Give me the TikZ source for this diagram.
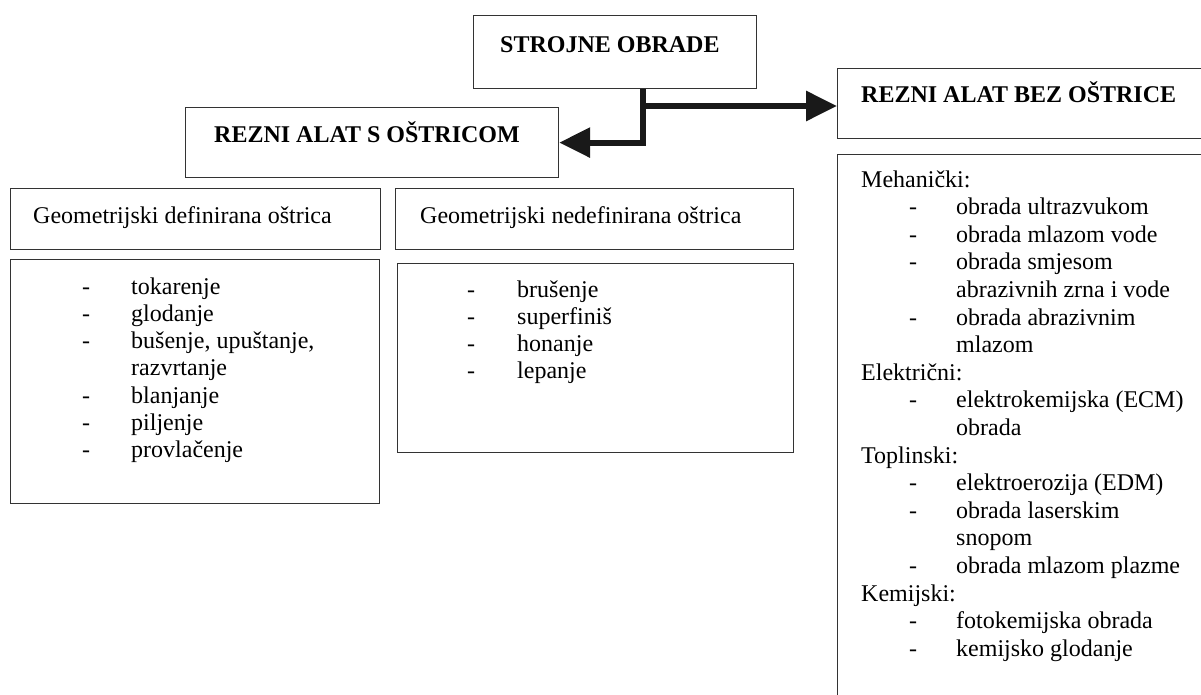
\documentclass[tikz,border=0pt]{standalone}
\usepackage{fontspec}
\setmainfont{Liberation Serif}
\usetikzlibrary{arrows.meta,calc}
\newcommand\li[3]{\hspace*{#1}\makebox[#2][l]{-}#3}
\tikzset{
  box/.style={draw=black!80, line width=1.2pt, rectangle, inner sep=0pt, anchor=north west},
  title/.style={anchor=base west, inner sep=0pt, font=\fontsize{24}{27}\selectfont\bfseries},
  plain/.style={anchor=base west, inner sep=0pt, font=\fontsize{24}{27}\selectfont},
  conn/.style={line width=6pt, draw=black!90, -{Triangle[length=31pt,width=29pt]}},
}
\begin{document}
\begin{tikzpicture}[x=1pt,y=-1pt]
\useasboundingbox (0,0) rectangle (1201,695);
\clip (0,0) rectangle (1201,695);
% boxes
\node[box, minimum width=283pt, minimum height=73pt] (strojne) at (473,15) {};
\node[box, minimum width=373pt, minimum height=70pt] (rs) at (185,107) {};
\node[box, minimum width=380pt, minimum height=70pt] (rbez) at (837,68) {};
\node[box, minimum width=370pt, minimum height=61pt] (def) at (10,188) {};
\node[box, minimum width=398pt, minimum height=61pt] (ndef) at (395,188) {};
\node[box, minimum width=369pt, minimum height=244pt] (defc) at (10,259) {};
\node[box, minimum width=396pt, minimum height=189pt] (ndefc) at (397,263) {};
\node[box, minimum width=380pt, minimum height=560pt] (rlist) at (837,154) {};
% titles
\node[title] (t1) at (500,53) {STROJNE OBRADE};
\node[title] (t2) at (214,143) {REZNI ALAT S OŠTRICOM};
\node[title] (t3) at (861,103) {REZNI ALAT BEZ OŠTRICE};
\node[plain] (t4) at (33,223) {Geometrijski definirana oštrica};
\node[plain] (t5) at (420,223) {Geometrijski nedefinirana oštrica};
% lists
\node[plain] (l1) at (82,294) {\parbox[t]{300pt}{\fontsize{24}{27.3}\selectfont\raggedright
\li{0pt}{49pt}{tokarenje}\\
\li{0pt}{49pt}{glodanje}\\
\li{0pt}{49pt}{bušenje, upuštanje,}\\
\hspace*{49pt}razvrtanje\\
\li{0pt}{49pt}{blanjanje}\\
\li{0pt}{49pt}{piljenje}\\
\li{0pt}{49pt}{provlačenje}}};
\node[plain] (l2) at (467,297) {\parbox[t]{300pt}{\fontsize{24}{27.3}\selectfont\raggedright
\li{0pt}{50pt}{brušenje}\\
\li{0pt}{50pt}{superfiniš}\\
\li{0pt}{50pt}{honanje}\\
\li{0pt}{50pt}{lepanje}}};
\node[plain] (l3) at (861,187) {\parbox[t]{400pt}{\fontsize{24}{27.6}\selectfont\raggedright
Mehanički:\\
\li{48pt}{47pt}{obrada ultrazvukom}\\
\li{48pt}{47pt}{obrada mlazom vode}\\
\li{48pt}{47pt}{obrada smjesom}\\
\hspace*{95pt}abrazivnih zrna i vode\\
\li{48pt}{47pt}{obrada abrazivnim}\\
\hspace*{95pt}mlazom\\
Električni:\\
\li{48pt}{47pt}{elektrokemijska (ECM)}\\
\hspace*{95pt}obrada\\
Toplinski:\\
\li{48pt}{47pt}{elektroerozija (EDM)}\\
\li{48pt}{47pt}{obrada laserskim}\\
\hspace*{95pt}snopom\\
\li{48pt}{47pt}{obrada mlazom plazme}\\
Kemijski:\\
\li{48pt}{47pt}{fotokemijska obrada}\\
\li{48pt}{47pt}{kemijsko glodanje}}};
% connectors
\coordinate (split) at (643,106);
\draw[conn] (strojne.south -| split) |- (rs.east);
\draw[conn] (split) -- (rbez.west |- split);
\end{tikzpicture}
\end{document}
